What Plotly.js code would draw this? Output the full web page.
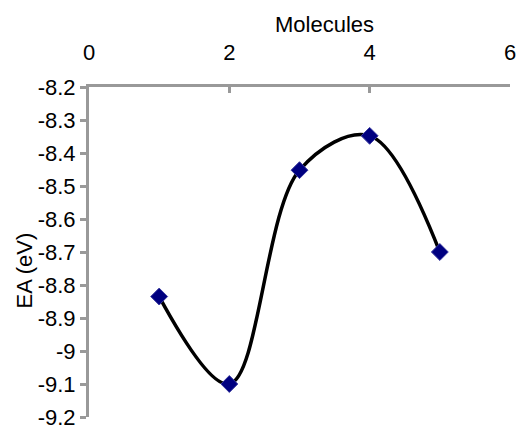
<!DOCTYPE html>
<html>
<head>
<meta charset="utf-8">
<script src="https://cdn.plot.ly/plotly-3.0.1.min.js"></script>
<style>html,body{margin:0;padding:0;background:#fff;}#chart{width:519px;height:430px;}</style>
</head>
<body>
<div id="chart"></div>
<script>
const molecules = [1, 2, 3, 4, 5];
const ea = [-8.835, -9.10, -8.452, -8.348, -8.70];
const xTicks = [0, 2, 4, 6];
const yTicks = [-8.2, -8.3, -8.4, -8.5, -8.6, -8.7, -8.8, -8.9, -9, -9.1, -9.2];
const yTickText = ['-8.2','-8.3','-8.4','-8.5','-8.6','-8.7','-8.8','-8.9','-9','-9.1','-9.2'];

const font = {family: 'Liberation Sans, Arial, sans-serif', size: 22, color: '#000'};

Plotly.newPlot('chart', [{
  x: molecules, y: ea, type: 'scatter', mode: 'lines+markers',
  line: {color: '#000', width: 3.5, shape: 'spline', smoothing: 1},
  marker: {symbol: 'diamond', size: 13, color: '#000080', line: {color: '#3a3aa0', width: 1}}
}], {
  width: 519, height: 430,
  margin: {l: 89, r: 9, t: 87, b: 13},
  paper_bgcolor: '#fff', plot_bgcolor: '#fff',
  showlegend: false,
  font: font,
  xaxis: {
    side: 'top', range: [0, 6], tickvals: xTicks, ticktext: xTicks.map(String),
    showgrid: false, zeroline: false, showline: true, linecolor: '#999', linewidth: 3,
    ticks: 'inside', ticklen: 6, tickwidth: 3, tickcolor: '#999', tickfont: font,
    ticklabelstandoff: 15, ticklabeloverflow: 'allow'
  },
  yaxis: {
    range: [-9.2, -8.2], tickvals: yTicks, ticktext: yTickText,
    showgrid: false, zeroline: false, showline: true, linecolor: '#999', linewidth: 3,
    ticks: 'outside', ticklen: 6, tickwidth: 3, tickcolor: '#999', tickfont: font,
    ticklabeloverflow: 'allow'
  },
  annotations: [
    {text: 'Molecules', xref: 'paper', yref: 'paper', x: 0.56, y: 1, yshift: 63, yanchor: 'middle', xanchor: 'center', showarrow: false,
     font: {family: 'Liberation Sans, Arial, sans-serif', size: 22, color: '#000'}},
    {text: 'EA (eV)', xref: 'paper', yref: 'paper', x: 0, xshift: -65, xanchor: 'center', y: 0.444, yanchor: 'middle', showarrow: false, textangle: -90,
     font: {family: 'Liberation Sans, Arial, sans-serif', size: 22, color: '#000'}}
  ]
}, {displayModeBar: false, staticPlot: true});
</script>
</body>
</html>
